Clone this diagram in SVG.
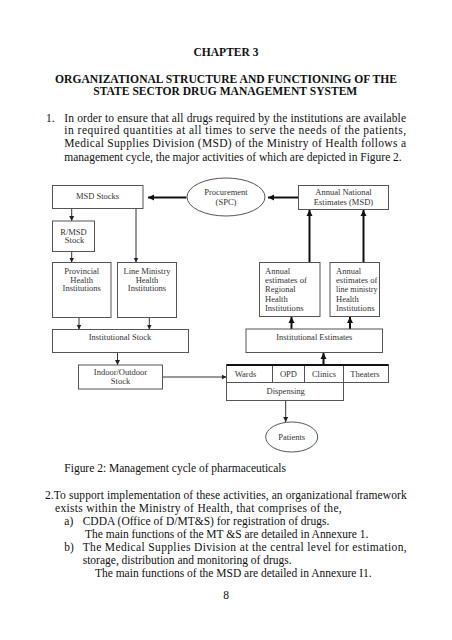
<svg xmlns="http://www.w3.org/2000/svg" width="452" height="640" viewBox="0 0 452 640">
<defs>
<style>
.body{font-family:"Liberation Serif","Times New Roman",serif;font-size:11.5px;fill:#111}
.b{font-weight:bold}
.d{font-family:"Liberation Serif","Times New Roman",serif;font-size:8.5px;fill:#333}
.c{text-anchor:middle}
.box{fill:#fff;stroke:#555;stroke-width:1}
.ln{fill:none;stroke:#333;stroke-width:1}
.tk{fill:none;stroke:#111;stroke-width:2}
</style>
<marker id="ah" markerUnits="userSpaceOnUse" markerWidth="6" markerHeight="6" refX="5" refY="3" orient="auto">
<path d="M0,0.5 L5,3 L0,5.5 Z" fill="#222"/>
</marker>
<marker id="ahk" markerUnits="userSpaceOnUse" markerWidth="8" markerHeight="8" refX="6" refY="4" orient="auto">
<path d="M0,1 L6,4 L0,7 Z" fill="#111"/>
</marker>
</defs>
<rect width="452" height="640" fill="#fff"/>

<g id="header">
<text class="body b c" x="226" y="56">CHAPTER 3</text>
<text class="body b" x="55" y="82.7" textLength="342" lengthAdjust="spacingAndGlyphs">ORGANIZATIONAL STRUCTURE AND FUNCTIONING OF THE</text>
<text class="body b" x="93.3" y="95.3" textLength="264" lengthAdjust="spacingAndGlyphs">STATE SECTOR DRUG MANAGEMENT SYSTEM</text>
<text class="body" x="46" y="121.7">1.</text>
<text class="body" x="64.3" y="121.7" textLength="341.7" lengthAdjust="spacing">In order to ensure that all drugs required by the institutions are available</text>
<text class="body" x="64.3" y="134.3" textLength="341.7" lengthAdjust="spacing">in required quantities at all times to serve the needs of the patients,</text>
<text class="body" x="64.3" y="147.3" textLength="341.7" lengthAdjust="spacing">Medical Supplies Division (MSD) of the Ministry of Health follows a</text>
<text class="body" x="64.3" y="160.7" textLength="337.4" lengthAdjust="spacing">management cycle, the major activities of which are depicted in Figure 2.</text>
</g>

<g id="connectors">
<line class="tk" x1="186.5" y1="197.5" x2="148" y2="197.5" marker-end="url(#ahk)"/>
<line class="tk" x1="298.5" y1="197.5" x2="268" y2="197.5" marker-end="url(#ahk)"/>
<line class="ln" x1="71.7" y1="208.5" x2="71.7" y2="221" marker-end="url(#ah)"/>
<line class="ln" x1="71.7" y1="251.5" x2="71.7" y2="262.5" marker-end="url(#ah)"/>
<line class="ln" x1="136" y1="208.5" x2="136" y2="262.5" marker-end="url(#ah)"/>
<line class="ln" x1="79" y1="317.5" x2="79" y2="329.5" marker-end="url(#ah)"/>
<line class="ln" x1="149.3" y1="317.5" x2="149.3" y2="329.5" marker-end="url(#ah)"/>
<line class="ln" x1="117.5" y1="352.5" x2="117.5" y2="365" marker-end="url(#ah)"/>
<line class="ln" x1="162.5" y1="377" x2="226.5" y2="377" marker-end="url(#ah)"/>
<line class="tk" x1="309.5" y1="262.5" x2="309.5" y2="210" stroke-width="1.6" marker-end="url(#ahk)"/>
<line class="tk" x1="363.5" y1="262.5" x2="363.5" y2="210" marker-end="url(#ahk)"/>
<line class="tk" x1="291.5" y1="329" x2="291.5" y2="317" marker-end="url(#ahk)"/>
<line class="tk" x1="350" y1="329" x2="350" y2="317" marker-end="url(#ahk)"/>
<line class="tk" x1="323.5" y1="365" x2="323.5" y2="353" marker-end="url(#ahk)"/>
<line class="ln" x1="285.7" y1="400.5" x2="285.7" y2="422" marker-end="url(#ah)"/>
</g>

<g id="msd-stocks">
<rect class="box" x="52.5" y="185.5" width="90.5" height="23"/>
<text class="d c" x="97.5" y="198.5">MSD Stocks</text>
</g>
<g id="procurement">
<ellipse class="box" cx="226" cy="197" rx="39" ry="19"/>
<text class="d c" x="226" y="194.5">Procurement</text>
<text class="d c" x="226" y="204.5">(SPC)</text>
</g>
<g id="annual-national">
<rect class="box" x="298.5" y="185.5" width="90" height="24"/>
<text class="d c" x="343.5" y="194.8">Annual National</text>
<text class="d c" x="343.5" y="204.8">Estimates (MSD)</text>
</g>
<g id="rmsd-stock">
<rect class="box" x="52.5" y="221" width="42" height="30.5"/>
<text class="d c" x="73.5" y="234.5">R/MSD</text>
<text class="d c" x="74.5" y="243">Stock</text>
</g>
<g id="provincial">
<rect class="box" x="52.5" y="262.5" width="58.5" height="55"/>
<text class="d c" x="81.7" y="273.7">Provincial</text>
<text class="d c" x="81.7" y="282.5">Health</text>
<text class="d c" x="81.7" y="291.3">Institutions</text>
</g>
<g id="line-ministry">
<rect class="box" x="117.5" y="262.5" width="59" height="55"/>
<text class="d c" x="147" y="273.7">Line Ministry</text>
<text class="d c" x="147" y="282.5">Health</text>
<text class="d c" x="147" y="291.3">Institutions</text>
</g>
<g id="regional-estimates">
<rect class="box" x="259.5" y="262.5" width="60.5" height="54"/>
<text class="d" x="265" y="273.5">Annual</text>
<text class="d" x="265" y="282.9" textLength="42" lengthAdjust="spacingAndGlyphs">estimates of</text>
<text class="d" x="265" y="292.3">Regional</text>
<text class="d" x="265" y="301.7">Health</text>
<text class="d" x="265" y="311.1" textLength="38.5" lengthAdjust="spacingAndGlyphs">Institutions</text>
</g>
<g id="line-ministry-estimates">
<rect class="box" x="330" y="262.5" width="49.5" height="54"/>
<text class="d" x="336" y="273.5">Annual</text>
<text class="d" x="336" y="282.9" textLength="41.5" lengthAdjust="spacingAndGlyphs">estimates of</text>
<text class="d" x="336" y="292.3" textLength="41.5" lengthAdjust="spacingAndGlyphs">line ministry</text>
<text class="d" x="336" y="301.7">Health</text>
<text class="d" x="336" y="311.1" textLength="38.5" lengthAdjust="spacingAndGlyphs">Institutions</text>
</g>
<g id="institutional-stock">
<rect class="box" x="52.5" y="329.5" width="136" height="23"/>
<text class="d c" x="120" y="339.8">Institutional Stock</text>
</g>
<g id="institutional-estimates">
<rect class="box" x="246" y="329" width="136.5" height="23.5"/>
<text class="d c" x="314.3" y="339.8">Institutional Estimates</text>
</g>
<g id="indoor-outdoor">
<rect class="box" x="78.5" y="365" width="84" height="24"/>
<text class="d c" x="120.5" y="375.3">Indoor/Outdoor</text>
<text class="d c" x="120.5" y="384">Stock</text>
</g>
<g id="dispensing">
<rect class="box" x="226.5" y="365" width="46" height="17.5"/>
<rect class="box" x="272.5" y="365" width="32" height="17.5"/>
<rect class="box" x="304.5" y="365" width="39" height="17.5"/>
<rect class="box" x="343.5" y="365" width="45" height="17.5"/>
<line x1="226.5" y1="365" x2="388.5" y2="365" stroke="#111" stroke-width="2"/>
<rect class="box" x="226.5" y="382.5" width="117" height="18"/>
<text class="d c" x="245.5" y="376.5">Wards</text>
<text class="d c" x="288.5" y="376.5">OPD</text>
<text class="d c" x="324" y="376.5">Clinics</text>
<text class="d c" x="365" y="376.5">Theaters</text>
<text class="d c" x="285.7" y="394">Dispensing</text>
</g>
<g id="patients">
<ellipse class="box" cx="291.7" cy="437" rx="26" ry="15"/>
<text class="d c" x="291.7" y="440">Patients</text>
</g>

<g id="footer">
<text class="body" x="64.3" y="472.3" textLength="221.7" lengthAdjust="spacing">Figure 2: Management cycle of pharmaceuticals</text>
<text class="body" x="45" y="499.3" textLength="361.7" lengthAdjust="spacing">2.To support implementation of these activities, an organizational framework</text>
<text class="body" x="55" y="511.7" textLength="286.7" lengthAdjust="spacing">exists within the Ministry of Health, that comprises of the,</text>
<text class="body" x="64.3" y="525">a)</text>
<text class="body" x="82.7" y="525" textLength="246.6" lengthAdjust="spacing">CDDA (Office of D/MT&amp;S) for registration of drugs.</text>
<text class="body" x="85" y="537.7" textLength="283.3" lengthAdjust="spacing">The main functions of the MT &amp;S are detailed in Annexure 1.</text>
<text class="body" x="64.3" y="551">b)</text>
<text class="body" x="82.7" y="551" textLength="324" lengthAdjust="spacing">The Medical Supplies Division at the central level for estimation,</text>
<text class="body" x="82.7" y="564.3" textLength="209" lengthAdjust="spacing">storage, distribution and monitoring of drugs.</text>
<text class="body" x="95" y="577" textLength="276.7" lengthAdjust="spacing">The main functions of the MSD are detailed in Annexure I1.</text>
<text class="body c" x="226" y="599">8</text>
</g>
</svg>
